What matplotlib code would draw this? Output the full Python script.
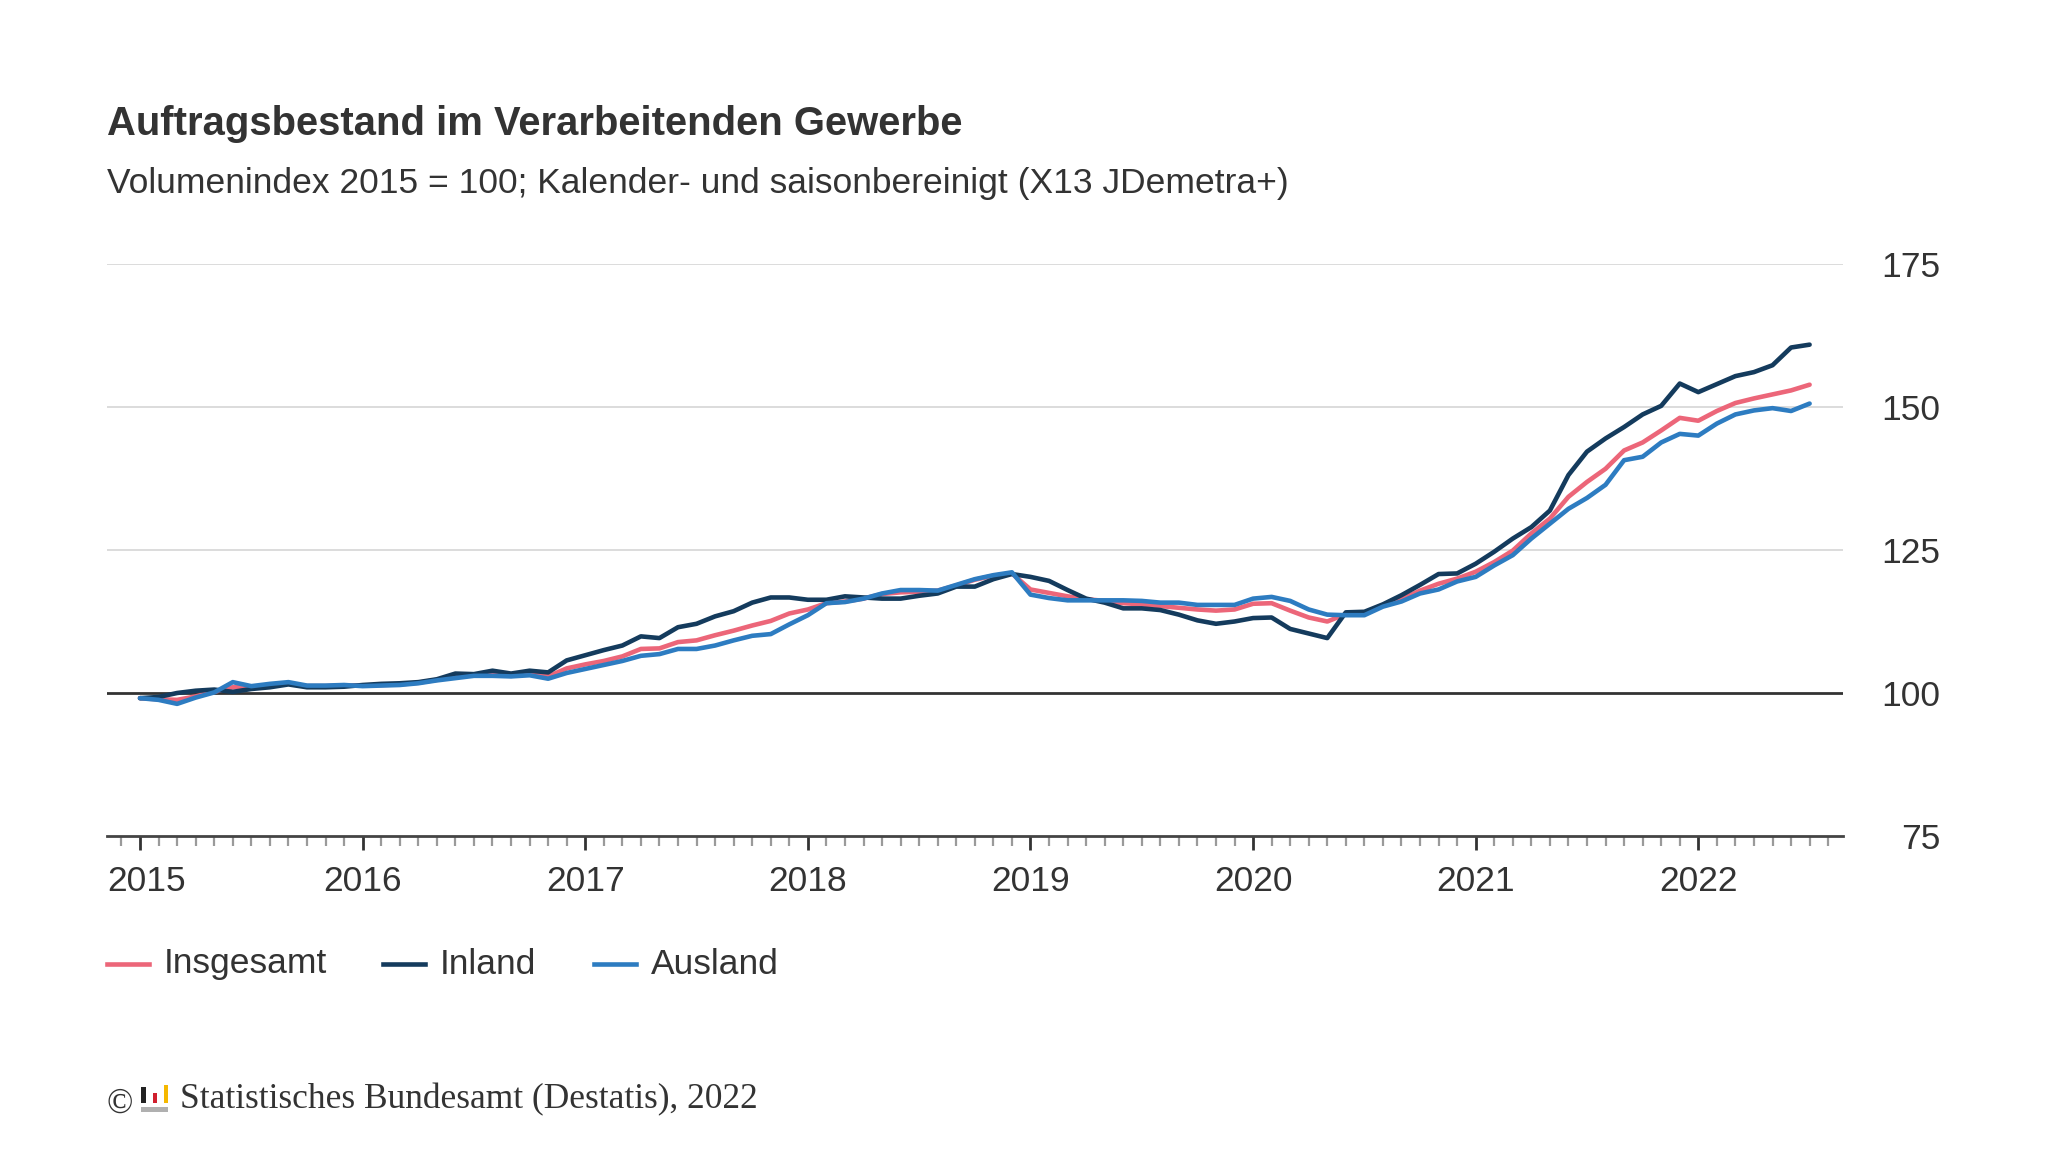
import matplotlib
matplotlib.use("Agg")
import matplotlib.pyplot as plt
import numpy as np
from matplotlib.lines import Line2D
from matplotlib.patches import Rectangle
from matplotlib.ticker import FixedLocator, NullFormatter
import matplotlib.transforms as mtransforms

# monthly values, Jan 2015 .. Jul 2022 (volume index 2015 = 100)
insgesamt = [
    99.1, 98.9, 98.8, 99.4, 100.2, 101.0, 101.0, 101.4, 101.7, 101.2, 101.2, 101.3,
    101.3, 101.4, 101.5, 101.8, 102.3, 102.9, 103.1, 103.3, 103.0, 103.4, 102.9, 104.3,
    105.0, 105.6, 106.4, 107.7, 107.8, 108.9, 109.2, 110.1, 110.9, 111.8, 112.6, 113.9,
    114.6, 115.7, 116.0, 116.5, 117.3, 117.6, 117.7, 117.9, 118.8, 119.8, 120.5, 120.9,
    118.1, 117.5, 116.9, 116.4, 116.1, 115.7, 115.5, 115.2, 114.9, 114.6, 114.4, 114.6,
    115.6, 115.7, 114.4, 113.2, 112.5, 113.8, 114.0, 115.4, 116.4, 117.9, 119.1, 120.0,
    121.2, 122.9, 124.9, 127.9, 130.5, 134.3, 136.9, 139.2, 142.4, 143.8, 145.9, 148.1,
    147.6, 149.3, 150.7, 151.5, 152.2, 152.9, 153.9,
]
inland = [
    99.1, 99.3, 100.0, 100.4, 100.6, 100.2, 100.7, 101.0, 101.5, 101.0, 101.0, 101.1,
    101.4, 101.6, 101.7, 101.9, 102.4, 103.4, 103.3, 103.9, 103.4, 103.9, 103.6, 105.7,
    106.6, 107.5, 108.3, 109.9, 109.6, 111.5, 112.1, 113.4, 114.3, 115.8, 116.7, 116.7,
    116.3, 116.3, 116.9, 116.7, 116.5, 116.5, 117.0, 117.4, 118.6, 118.6, 119.9, 120.8,
    120.3, 119.6, 118.0, 116.5, 115.8, 114.8, 114.8, 114.5, 113.7, 112.7, 112.1, 112.5,
    113.1, 113.2, 111.2, 110.4, 109.6, 114.1, 114.2, 115.5, 117.1, 118.9, 120.8, 120.9,
    122.6, 124.7, 127.0, 129.0, 131.9, 138.1, 142.2, 144.5, 146.5, 148.7, 150.2, 154.1,
    152.6, 154.0, 155.4, 156.1, 157.3, 160.4, 160.9,
]
ausland = [
    99.1, 98.8, 98.1, 99.2, 100.1, 101.9, 101.2, 101.6, 101.9, 101.3, 101.3, 101.4,
    101.2, 101.3, 101.4, 101.7, 102.2, 102.6, 103.0, 103.0, 102.9, 103.1, 102.5, 103.5,
    104.2, 104.9, 105.6, 106.5, 106.8, 107.7, 107.7, 108.3, 109.2, 110.0, 110.3, 112.0,
    113.6, 115.7, 115.9, 116.5, 117.4, 118.0, 118.0, 117.9, 118.9, 119.9, 120.6, 121.1,
    117.2, 116.6, 116.2, 116.2, 116.2, 116.2, 116.1, 115.8, 115.8, 115.4, 115.4, 115.4,
    116.5, 116.8, 116.1, 114.6, 113.7, 113.6, 113.6, 115.1, 116.0, 117.4, 118.1, 119.5,
    120.3, 122.3, 124.1, 127.0, 129.6, 132.2, 134.1, 136.4, 140.7, 141.3, 143.8, 145.3,
    145.0, 147.1, 148.7, 149.4, 149.8, 149.3, 150.6,
]
series_names = ["Insgesamt", "Inland", "Ausland"]
years = [2015, 2016, 2017, 2018, 2019, 2020, 2021, 2022]
y_ticks = [75, 100, 125, 150, 175]

COLORS = ["#ec6679", "#143b5d", "#2d7cc1"]
TEXT = "#333333"
FS = 25.5

plt.rcParams["font.family"] = ["Liberation Sans", "DejaVu Sans"]

fig = plt.figure(figsize=(20.48, 11.52), dpi=100)
ax = fig.add_axes([107 / 2048, 1 - 836 / 1152, (1843 - 107) / 2048, (836 - 264) / 1152])

months = np.arange(len(insgesamt))
for vals, color in zip([insgesamt, inland, ausland], COLORS):
    ax.plot(months, vals, color=color, lw=3.3, solid_capstyle="round",
            solid_joinstyle="round", zorder=3)

ax.set_xlim(-1.78, 91.8)
ax.set_ylim(75, 175)

# horizontal grid, reference line at 100
for v in y_ticks[1:]:
    if v == 100:
        ax.axhline(v, color="#333333", lw=2.0, zorder=2)
    else:
        ax.axhline(v, color="#d9d9d9", lw=1.3, zorder=1)

for side in ["top", "right", "left"]:
    ax.spines[side].set_visible(False)
ax.spines["bottom"].set_color("#444444")
ax.spines["bottom"].set_linewidth(2.0)

# y tick labels on the right, right aligned
ax.yaxis.tick_right()
ax.set_yticks(y_ticks)
ax.tick_params(axis="y", length=0, pad=70, labelsize=FS, labelcolor=TEXT)
for lab in ax.get_yticklabels():
    lab.set_horizontalalignment("right")

# monthly minor ticks, yearly major ticks
major_pos = [(y - 2015) * 12 for y in years]
ax.xaxis.set_major_locator(FixedLocator(major_pos))
ax.xaxis.set_minor_locator(FixedLocator(np.arange(-1, 92)))
ax.xaxis.set_major_formatter(NullFormatter())
ax.tick_params(axis="x", which="major", length=10, width=2, color="#333333")
ax.tick_params(axis="x", which="minor", length=7.5, width=1.6, color="#9a9a9a")

trans = mtransforms.blended_transform_factory(ax.transData, ax.transAxes)
for y, pos in zip(years, major_pos):
    if pos == 0:
        ax.text(ax.get_xlim()[0], -0.079, str(y), transform=trans, ha="left",
                va="center", fontsize=FS, color=TEXT)
    else:
        ax.text(pos, -0.079, str(y), transform=trans, ha="center",
                va="center", fontsize=FS, color=TEXT)

# title and subtitle
fig.text(107 / 2048, 1 - 135 / 1152, "Auftragsbestand im Verarbeitenden Gewerbe",
         fontsize=28.8, fontweight="bold", color=TEXT, va="baseline")
fig.text(107 / 2048, 1 - 193 / 1152,
         "Volumenindex 2015 = 100; Kalender- und saisonbereinigt (X13 JDemetra+)",
         fontsize=25.5, color=TEXT, va="baseline")

# legend drawn by hand
leg_y = 1 - 964 / 1152
leg_x = [107, 383, 594]
for name, color, x0 in zip(series_names, COLORS, leg_x):
    fig.add_artist(Line2D([x0 / 2048, (x0 + 42) / 2048], [leg_y, leg_y],
                          color=color, lw=3.3, transform=fig.transFigure))
    fig.text((x0 + 57) / 2048, leg_y, name, fontsize=FS, color=TEXT, va="center")

# footer with small logo
fy = 1 - 1108 / 1152
fig.text(107 / 2048, fy - 0.004, "©", fontsize=25, color=TEXT, va="baseline",
         family=["Liberation Serif", "DejaVu Serif"])
for x0, x1, y0, y1, c in [(141.3, 145.8, 1086.7, 1103.3, "#222222"),
                           (152.5, 157.0, 1092.7, 1103.3, "#d0202e"),
                           (163.7, 168.0, 1085.0, 1103.3, "#f5b800"),
                           (141.3, 168.0, 1106.7, 1111.7, "#b0b0b0")]:
    fig.add_artist(Rectangle((x0 / 2048, 1 - y1 / 1152), (x1 - x0) / 2048,
                             (y1 - y0) / 1152, color=c, transform=fig.transFigure,
                             lw=0))
fig.text(180 / 2048, fy, "Statistisches Bundesamt (Destatis), 2022", fontsize=25.5,
         color=TEXT, va="baseline", family=["Liberation Serif", "DejaVu Serif"])

fig.savefig("out.png", dpi=100, facecolor="white")
